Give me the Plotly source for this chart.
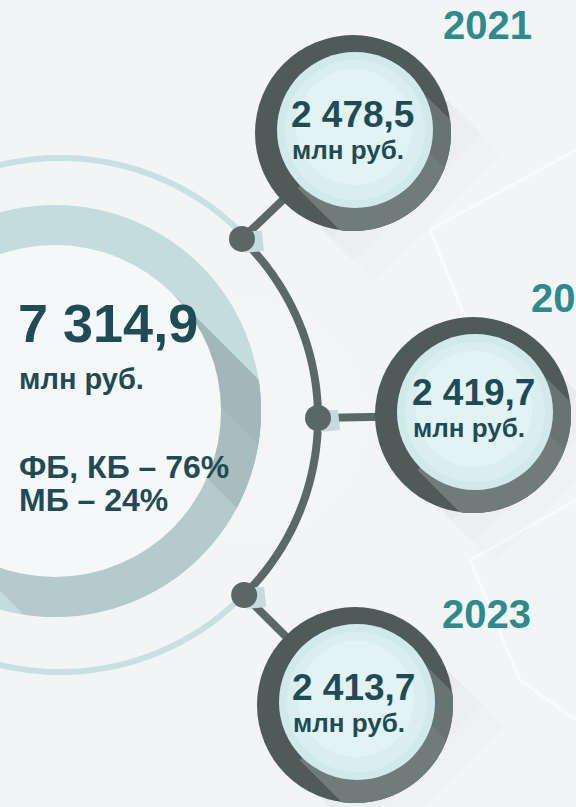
import numpy as np
import plotly.graph_objects as go

# ---- data ----
years = ["2021", "2022", "2023"]
values = ["2 478,5", "2 419,7", "2 413,7"]
unit = "млн руб."
total = "7 314,9"
shares = ["ФБ, КБ – 76%", "МБ – 24%"]

# ---- layout geometry (pixels) ----
W, H = 576, 807
big_c = (55, 411)
thin_c = (60, 415)
thin_r = 257
arc_c = (69, 418)
arc_r = 249
node_angles = [46, 0, -45.3]
bubble_c = [(353, 133), (473, 415), (355, 705)]
year_pos = [(441, 25), (529, 298), (440, 614)]

DARK = "#1f4c54"
TEAL = "#2f8a8c"
GRAY = "#5c6868"
FONT = "Liberation Sans, Arial, sans-serif"

shapes = []
D = np.array([1, 1]) / np.sqrt(2)    # shadow direction (screen: right-down)
N = np.array([1, -1]) / np.sqrt(2)   # normal (screen: right-up)


def circle(cx, cy, r, fill, line=None, lw=0, opacity=1.0):
    shapes.append(dict(type="circle", xref="x", yref="y", x0=cx - r, x1=cx + r,
                       y0=cy - r, y1=cy + r, fillcolor=fill, opacity=opacity,
                       line=dict(color=line or fill, width=lw)))


def poly(pts, fill, opacity=1.0):
    p = "M " + " L ".join(f"{x:.2f},{y:.2f}" for x, y in pts) + " Z"
    shapes.append(dict(type="path", path=p, fillcolor=fill, opacity=opacity,
                       line=dict(width=0), xref="x", yref="y"))


def arc_path(cx, cy, r, a0, a1, n=90):
    t = np.radians(np.linspace(a0, a1, n))
    xs = cx + r * np.cos(t)
    ys = cy - r * np.sin(t)
    return "M " + " L ".join(f"{x:.2f},{y:.2f}" for x, y in zip(xs, ys))


def band_in_circle(cx, cy, R, s1, s2, n=60):
    """part of circle (radius R) on the shadow side lying between two lines parallel to D."""
    C = np.array([cx, cy], float)
    f1, f2 = np.arcsin(s1 / R), np.arcsin(s2 / R)
    pts = [C + s1 * N]
    for f in np.linspace(f1, f2, n):
        pts.append(C + R * (np.cos(f) * D + np.sin(f) * N))
    pts.append(C + s2 * N)
    return pts


def long_shadow(cx, cy, r, L):
    C = np.array([cx, cy], float)
    return [C + r * N, C + r * N + L * D, C - r * N + L * D, C - r * N]


# faint background decorations
for (xa, ya, xb, yb) in [(430, 230, 576, 150), (430, 230, 470, 330), (470, 560, 576, 500),
                         (470, 560, 520, 680), (520, 680, 576, 720)]:
    shapes.append(dict(type="line", x0=xa, y0=ya, x1=xb, y1=yb, xref="x", yref="y",
                       line=dict(color="rgba(255,255,255,0.5)", width=3)))
circle(245, 420, 120, "rgba(255,255,255,0.18)")

# thin light circle around the big ring
shapes.append(dict(type="path", path=arc_path(thin_c[0], thin_c[1], thin_r, 45, 105),
                   line=dict(color="#c8e0e1", width=6), xref="x", yref="y"))
shapes.append(dict(type="path", path=arc_path(thin_c[0], thin_c[1], thin_r, -45, -105),
                   line=dict(color="#c8e0e1", width=6), xref="x", yref="y"))

# big ring with long shadow
circle(big_c[0], big_c[1], 206, "#c5dcdc")
poly(band_in_circle(big_c[0], big_c[1], 206, 166, -166), "#b5caca", 1.0)
poly(band_in_circle(big_c[0], big_c[1], 206, 166, 60), "#a8bdbe", 1.0)
poly(band_in_circle(big_c[0], big_c[1], 206, 166, 120), "#a0b5b6", 0.8)
circle(big_c[0], big_c[1], 166, "#f5f8f8")

# connecting arc
shapes.append(dict(type="path", path=arc_path(arc_c[0], arc_c[1], arc_r, 46.5, -46),
                   line=dict(color=GRAY, width=8), xref="x", yref="y"))

# nodes, connectors, bubbles
for ang, (bx, by) in zip(node_angles, bubble_c):
    nx = arc_c[0] + arc_r * np.cos(np.radians(ang))
    ny = arc_c[1] - arc_r * np.sin(np.radians(ang))
    # outer soft shadow of bubble
    for L, op in [(120, 0.018), (90, 0.02), (60, 0.025), (30, 0.03)]:
        poly(long_shadow(bx, by, 90, L), "#6d7d7d", op)
    shapes.append(dict(type="line", x0=nx, y0=ny, x1=bx, y1=by, xref="x", yref="y",
                       line=dict(color=GRAY, width=8)))
    poly([(nx + 3, ny - 8), (nx + 20, ny - 8), (nx + 22, ny + 12), (nx + 3, ny + 14)], "#c6dcdc")
    circle(nx, ny, 13, "#5b6767")
    circle(bx, by, 98, "#4f5a5a")
    poly(band_in_circle(bx, by, 98, 78, -78), "#687474", 1.0)
    poly(band_in_circle(bx, by, 98, 40, -78), "#727e7e", 0.8)
    circle(bx + 2, by - 3, 78, "#d2e9ea")
    circle(bx + 2, by - 3, 70, "#d9eeef")
    circle(bx + 1, by - 6, 58, "#e2f3f4")

annotations = []


def txt(x, y, s, size, color=DARK):
    annotations.append(dict(x=x, y=y, xref="x", yref="y", text=s, showarrow=False,
                            xanchor="left", yanchor="middle",
                            font=dict(family=FONT, size=size, color=color)))


txt(16, 323, f"<b>{total}</b>", 54)
txt(17, 379, f"<b>{unit}</b>", 29)
txt(17, 467, f"<b>{shares[0]}</b>", 32)
txt(17, 500, f"<b>{shares[1]}</b>", 32)

val_x = [289, 410, 290]
val_y = [114, 392, 687]
for i in range(3):
    txt(val_x[i], val_y[i], f"<b>{values[i]}</b>", 37)
    txt(val_x[i] + 1, val_y[i] + 36, f"<b>{unit}</b>", 26)
    yx, yy = year_pos[i]
    txt(yx, yy, f"<b>{years[i]}</b>", 40, color=TEAL)

fig = go.Figure()
fig.update_layout(
    width=W, height=H, margin=dict(l=0, r=0, t=0, b=0),
    paper_bgcolor="#f1f5f6", plot_bgcolor="#f1f5f6",
    xaxis=dict(range=[0, W], visible=False, fixedrange=True),
    yaxis=dict(range=[H, 0], visible=False, fixedrange=True),
    shapes=shapes, annotations=annotations, showlegend=False,
)
fig.write_html("out.html", config={"displayModeBar": False},
               post_script="document.body.style.margin='0';document.body.style.overflow='hidden';")
